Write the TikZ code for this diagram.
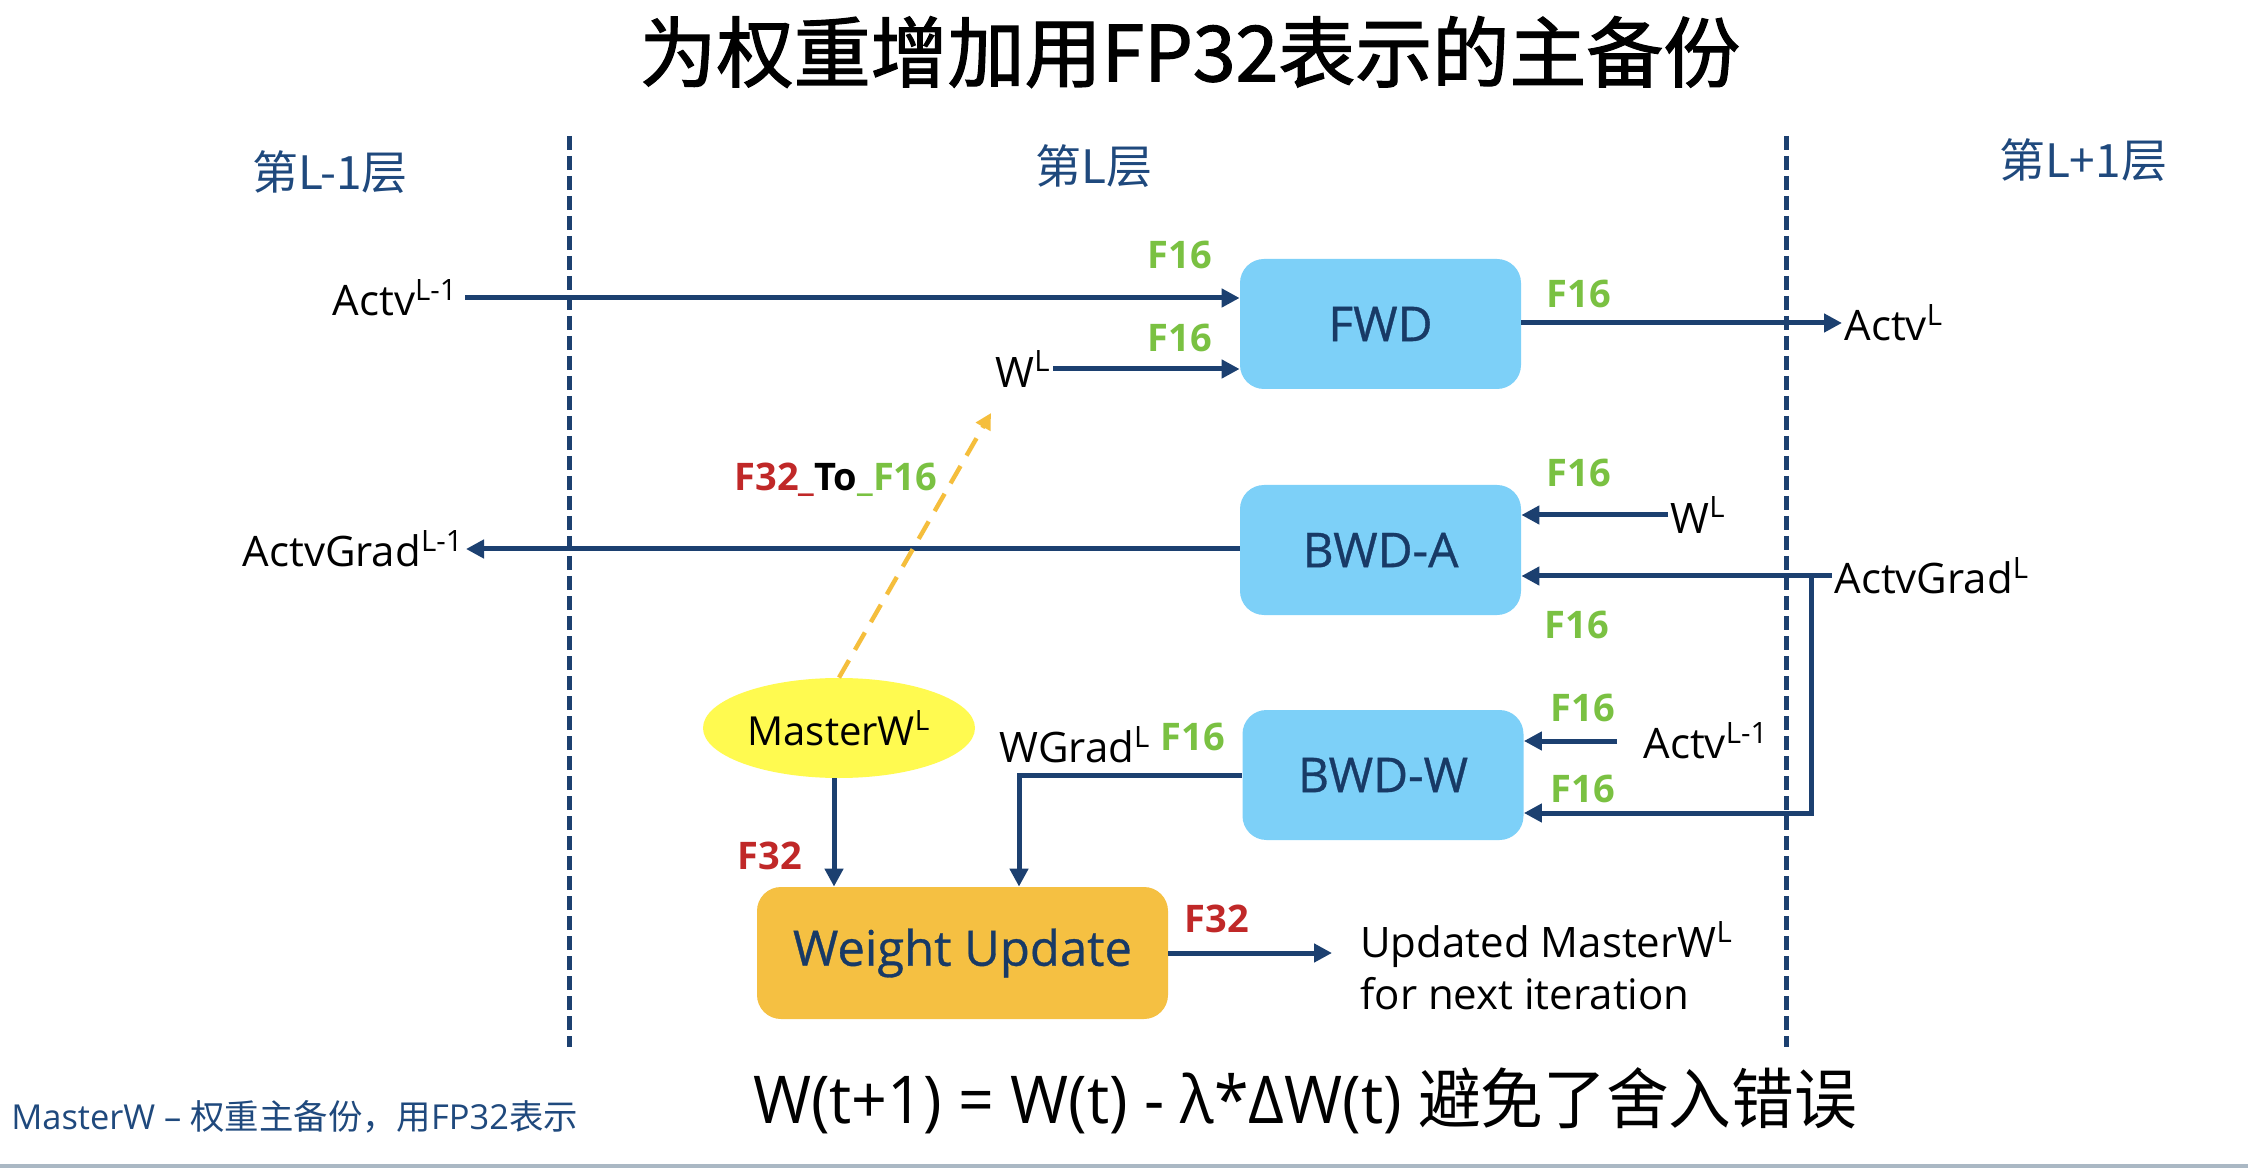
\documentclass[tikz,border=0pt]{standalone}
\usepackage{fontspec}
\setmainfont{Open Sans}
\newfontfamily\cjk{Noto Sans CJK SC}
\newfontfamily\cjktitle{Noto Sans CJK SC}[FakeBold=1.6]
\newfontfamily\boxfont{Open Sans}[FakeBold=0.7]
\usetikzlibrary{arrows.meta,shapes.geometric,calc}

\definecolor{navy}{RGB}{28,64,112}
\definecolor{boxtext}{RGB}{24,58,102}
\definecolor{layerblue}{RGB}{31,73,125}
\definecolor{boxblue}{RGB}{125,208,248}
\definecolor{wuorange}{RGB}{245,192,66}
\definecolor{mwyellow}{RGB}{255,250,80}
\definecolor{f16green}{RGB}{122,193,66}
\definecolor{f32red}{RGB}{192,40,40}
\definecolor{convyellow}{RGB}{245,190,60}
\definecolor{bargray}{RGB}{170,184,196}

\newcommand\sups[1]{\textsuperscript{#1}}

\begin{document}
\begin{tikzpicture}[x=0.5pt,y=-0.5pt,
  arr/.style={draw=navy, line width=2.5pt, -{Triangle[length=9pt,width=9pt]}},
  conv/.style={draw=convyellow, line width=2.2pt, dash pattern=on 10pt off 6pt, -{Triangle[length=8pt,width=8pt]}},
  divider/.style={draw=navy, line width=2.5pt, dash pattern=on 7pt off 3pt},
  box/.style={rounded corners=12pt, fill=boxblue, minimum width=140.5pt, minimum height=65pt,
              font=\boxfont\fontsize{24}{28}\selectfont, text=boxtext},
  wubox/.style={rounded corners=12pt, fill=wuorange, minimum width=205.5pt, minimum height=66pt,
              font=\boxfont\fontsize{24.5}{28}\selectfont, text=boxtext},
  master/.style={ellipse, fill=mwyellow, minimum width=136pt, minimum height=50pt, inner sep=0pt,
              font=\fontsize{20}{24}\selectfont},
  lbl/.style={inner sep=1pt, font=\fontsize{21}{26}\selectfont},
  f16/.style={inner sep=0pt, text=f16green, font=\bfseries\fontsize{19}{22}\selectfont},
  f32/.style={inner sep=0pt, text=f32red, font=\bfseries\fontsize{19}{22}\selectfont},
  layer/.style={text=layerblue, font=\cjk\fontsize{23}{28}\selectfont}
]
\useasboundingbox (0,0) rectangle (2248,1170);
\fill[white] (0,0) rectangle (2248,1170);
\draw[bargray, line width=2pt] (0,1166) -- (2248,1166);

% title and layer headings
\node[font=\cjktitle\fontsize{38.5}{46}\selectfont] (title) at (1190,52) {为权重增加用FP32表示的主备份};
\node[layer] (layerprev) at (330,172) {第L-1层};
\node[layer] (layercur) at (1094,166) {第L层};
\node[layer] (layernext) at (2083,160) {第L+1层};

% layer boundaries
\draw[divider] (569,136) -- (569,1047);
\draw[divider] (1786,136) -- (1786,1047);

% processing blocks
\node[box] (FWD) at (1380.5,324) {FWD};
\node[box] (BWDA) at (1380.5,550) {BWD-A};
\node[box] (BWDW) at (1383,775) {BWD-W};
\node[wubox] (WU) at (962.5,953) {Weight Update};
\node[master] (MW) at (839,728) {MasterW\sups{L}};

% forward pass
\node[lbl,anchor=east] (actvprev) at (460,298) {Actv\sups{L-1}};
\draw[arr,shorten <=2.5pt] (actvprev.east) -- (actvprev.east -| FWD.west);
\node[lbl,anchor=east] (wfwd) at (1053,369) {W\sups{L}};
\draw[arr] (wfwd.east) -- (wfwd.east -| FWD.west);
\node[lbl,anchor=west] (actvnext) at (1842,323) {Actv\sups{L}};
\draw[arr] (FWD.east |- actvnext.west) -- (actvnext.west);

% backward pass, activations
\node[lbl,anchor=east] (agprev) at (466,549) {ActvGrad\sups{L-1}};
\draw[arr] (BWDA.west |- agprev.east) -- (agprev.east);
\node[lbl,anchor=west] (wbwd) at (1668,515) {W\sups{L}};
\draw[arr] (wbwd.west) -- (wbwd.west -| BWDA.east);
\node[lbl,anchor=west] (agnext) at (1832,576) {ActvGrad\sups{L}};
\draw[arr] (agnext.west) -- (agnext.west -| BWDA.east);
\coordinate (tap) at ($(agnext.west)+(-21,0)$);
\draw[arr] (tap) |- (BWDW.east |- 0,813);

% backward pass, weights
\node[lbl,anchor=west] (actvw) at (1641,741) {Actv\sups{L-1}};
\draw[arr,shorten <=12pt] (actvw.west) -- (actvw.west -| BWDW.east);
\node[lbl] (wgrad) at (1075,745) {WGrad\sups{L}};
\draw[arr] (BWDW.west) -| ([xshift=28.25pt]WU.north);

% master copy and update
\draw[arr] ([xshift=-2.5pt]MW.south) -- ([xshift=-2.5pt]MW.south |- WU.north);
\coordinate (wtip) at (991,413);
\draw[conv] (MW.north) -- (wtip);
\node[lbl,anchor=west,align=left] (upd) at (1358,966) {Updated MasterW\sups{L}\\for next iteration};
\draw[arr,shorten >=13pt] (WU.east) -- (WU.east -| upd.west);

% precision tags
\node[f16] (tagA) at (1180,255) {F16};
\node[f16] (tagB) at (1180,338) {F16};
\node[f16] (tagC) at (1579,294) {F16};
\node[f16] (tagD) at (1579,473) {F16};
\node[f16] (tagE) at (1577,625) {F16};
\node[f16] (tagF) at (1583,708) {F16};
\node[f16] (tagG) at (1583,789) {F16};
\node[f16] (tagH) at (1193,737) {F16};
\node[f32] (tagI) at (770,856) {F32};
\node[f32] (tagJ) at (1217,919) {F32};
\node[inner sep=0pt, font=\bfseries\fontsize{19}{22}\selectfont] (convtag) at (836,480)
  {\textcolor{f32red}{F32\_}To\textcolor{f16green}{\_F16}};

% update rule and footnote
\node[font=\fontsize{33}{40}\selectfont] (formula) at (1305,1101)
  {\scalebox{0.95}[1]{W(t+1) = W(t) - λ*ΔW(t) {\cjk 避免了舍入错误}}};
\node[anchor=west, text=layerblue, inner sep=0pt, font=\fontsize{17.2}{20}\selectfont] (note) at (11,1117)
  {MasterW – {\cjk 权重主备份，用}FP32{\cjk 表示}};
\end{tikzpicture}
\end{document}
